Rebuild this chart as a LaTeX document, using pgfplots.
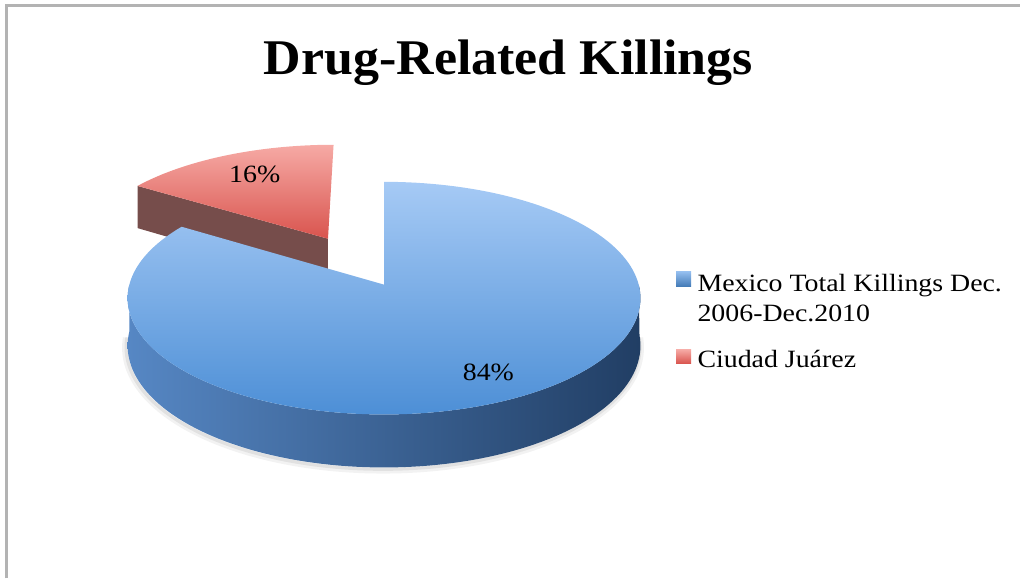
\documentclass[border=0pt]{standalone}
\usepackage{fontspec}
\setmainfont{Liberation Serif}
\newfontfamily\legfont{Liberation Serif}[FakeStretch=1.12]
\newfontfamily\titlefont{Liberation Serif}[FakeStretch=1.04]
\usepackage{pgfplots}
\usepackage{pgfplotstable}
\pgfplotsset{compat=1.18}
\definecolor{bluetopA}{RGB}{166,202,245}
\definecolor{bluetopB}{RGB}{77,143,214}
\definecolor{bluesideL}{RGB}{86,135,196}
\definecolor{bluesideM}{RGB}{47,94,145}
\definecolor{bluesideR}{RGB}{33,62,100}
\definecolor{redtopA}{RGB}{246,170,165}
\definecolor{redtopB}{RGB}{217,84,78}
\definecolor{redside}{RGB}{118,77,75}
\definecolor{framegray}{RGB}{179,179,179}
\begin{document}
\begin{tikzpicture}
\pgfplotstableread{
label value
Mexico 84
Juarez 16
}\piedata
\pgfplotstablegetelem{0}{value}\of\piedata \edef\va{\pgfplotsretval}
\pgfplotstablegetelem{1}{value}\of\piedata \edef\vb{\pgfplotsretval}
\pgfmathsetmacro\pa{90+360*\vb/(\va+\vb)}
\pgfmathsetmacro\pmid{90+180*\vb/(\va+\vb)}
\pgfmathsetmacro\ox{0.479*cos(\pmid)}
\pgfmathsetmacro\oy{0.479*sin(\pmid)}
\pgfmathsetmacro\hb{(450-\pa)/150}
\pgfmathsetmacro\hr{(\pa-90)/40}
\pgfmathsetmacro\db{\pa-\hb}
\pgfmathsetmacro\dr{90-\hr}
\pgfmathsetmacro\cb{\db+0.5*\hb}
\pgfmathsetmacro\cr{\dr+0.5*\hr}
\begin{axis}[
  scale only axis, width=510.5pt, height=289.5pt,
  xmin=0, xmax=1021, ymin=0, ymax=579, y dir=reverse,
  hide axis, clip=false,
  declare function={
    px(\r,\a,\u,\v)=384.5+255*(\u+\r*cos(\a))/(1+0.116*(\v+\r*sin(\a)));
    py(\r,\a,\u,\v,\z)=285+(-114.9*(\v+\r*sin(\a))+46.9*\z)/(1+0.116*(\v+\r*sin(\a)));
  }]
\path (axis cs:0,0) rectangle (axis cs:1021,579);
% frame
\draw[line width=1.25pt, color=framegray] (axis cs:6.5,579) -- (axis cs:6.5,5.5) -- (axis cs:1021,5.5);
% soft shadow
\addplot[draw=black, draw opacity=0.05, line width=3.5pt, domain=182:358, samples=120]
  ({px(1.004,\x,0,0)-1}, {py(1.004,\x,0,0,1)+2});
\addplot[draw=black, draw opacity=0.07, line width=1.6pt, domain=182:358, samples=120]
  ({px(1.002,\x,0,0)-1}, {py(1.002,\x,0,0,1)+1.5});
% red slice (exploded): radial side face
\addplot[draw=none, fill=redside, samples at={0,1,2,3}]
  ({px((\x>0.5)*(\x<2.5),\pa,\ox,\oy)}, {py((\x>0.5)*(\x<2.5),\pa,\ox,\oy,\x>1.5)});
% red top face
\addplot[draw=none, top color=redtopA, bottom color=redtopB, domain=\dr:\pa, samples=42]
  ({px(\x>\cr,max(\x,90),\ox,\oy)}, {py(\x>\cr,max(\x,90),\ox,\oy,0)});
% blue outer side
\addplot[draw=none, left color=bluesideL, middle color=bluesideM, right color=bluesideR, domain=0:2, samples=201]
  ({px(1,180+180*(1-abs(1-\x)),0,0)}, {py(1,180+180*(1-abs(1-\x)),0,0,\x>1.0001)});
% blue top face
\addplot[draw=none, top color=bluetopA, bottom color=bluetopB, domain=\db:450, samples=152]
  ({px(\x>\cb,max(\x,\pa),0,0)}, {py(\x>\cb,max(\x,\pa),0,0,0)});
% labels
\node[font=\legfont\fontsize{12.45pt}{15pt}\selectfont, anchor=base] at (axis cs:255,183) {16\%};
\node[font=\legfont\fontsize{12.45pt}{15pt}\selectfont, anchor=base] at (axis cs:489,381) {84\%};
% title
\node[font=\titlefont\bfseries\fontsize{25pt}{30pt}\selectfont, anchor=base] at (axis cs:509,75) {Drug-Related Killings};
% legend
\fill[top color=bluetopA!80!bluetopB, bottom color=bluetopB!85!black] (axis cs:677,272) rectangle (axis cs:692,287);
\fill[top color=redtopA, bottom color=redtopB] (axis cs:677,350) rectangle (axis cs:692,364);
\node[font=\legfont\fontsize{12.45pt}{15pt}\selectfont, anchor=base west, inner sep=0pt] at (axis cs:698,292) {Mexico Total Killings Dec.};
\node[font=\legfont\fontsize{12.45pt}{15pt}\selectfont, anchor=base west, inner sep=0pt] at (axis cs:698,322) {2006-Dec.2010};
\node[font=\legfont\fontsize{12.45pt}{15pt}\selectfont, anchor=base west, inner sep=0pt] at (axis cs:698,368) {Ciudad Juárez};
\end{axis}
\end{tikzpicture}
\end{document}
